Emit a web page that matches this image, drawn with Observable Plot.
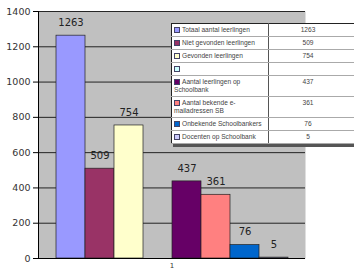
<!DOCTYPE html>
<html><head><meta charset="utf-8">
<script src="https://cdn.jsdelivr.net/npm/d3@7"></script>
<script src="https://cdn.jsdelivr.net/npm/@observablehq/plot@0.6"></script>
<style>
html,body{margin:0;padding:0;background:#fff}
body{width:354px;height:270px;overflow:hidden;position:relative}
#chart svg{display:block}
#legend{position:absolute;left:171px;top:23px;width:195px;border-collapse:collapse;background:#fff;border:1px solid #222;box-shadow:2px 3px 0 #555;font:6.6px "Liberation Sans",Arial,sans-serif;color:#444}
#legend td{padding:2px 2px;line-height:8px;height:8px;border-bottom:1px solid #aaa;vertical-align:top;white-space:pre-line}
#legend td.v{text-align:center;border-left:1px solid #555;padding-right:20px}
#legend td.n{width:92px}
#legend .m{display:inline-block;width:4px;height:4px;border:1px solid #446;margin-right:2px;vertical-align:-1px}
</style>
</head><body>
<div id="chart"></div>
<table id="legend"></table>
<script>
const categories = ["Totaal aantal leerlingen","Niet gevonden leerlingen","Gevonden leerlingen","","Aantal leerlingen op\nSchoolbank","Aantal bekende e-\nmailadressen SB","Onbekende Schoolbankers","Docenten op Schoolbank"];
const values = [1263, 509, 754, null, 437, 361, 76, 5];
const colors = ["#9999ff","#993366","#ffffcc","#ccffff","#660066","#ff8080","#0066cc","#ccccff"];
const yTicks = [0, 200, 400, 600, 800, 1000, 1200, 1400];
const xLabel = ["1"];

const data = categories.map((c, i) => ({i, name: c, v: values[i], color: colors[i]}));
const bars = data.filter(d => d.v != null);

const chart = Plot.plot({
  width: 354, height: 270,
  marginLeft: 38, marginRight: 49, marginTop: 11, marginBottom: 12,
  style: {fontFamily: "DejaVu Sans, sans-serif", background: "transparent"},
  x: {domain: data.map(d => d.i), paddingInner: 0, paddingOuter: 0.5, axis: null},
  y: {domain: [0, 1400], ticks: yTicks, label: null},
  marks: [
    Plot.frame({fill: "#c0c0c0", stroke: "none"}),
    Plot.gridY(yTicks, {stroke: "#111", strokeOpacity: 1, strokeWidth: 0.9}),
    Plot.barY(bars, {x: "i", y: "v", fill: "color", stroke: "#222", strokeWidth: 0.7}),
    Plot.text(bars, {x: "i", y: "v", text: d => String(d.v), dy: -13, fontSize: 10, fill: "#222"}),
    Plot.ruleY([0], {stroke: "#000", strokeWidth: 1}),
    Plot.frame({anchor: "left", stroke: "#000"}),
    Plot.axisY(yTicks, {tickSize: 5, tickPadding: 3, fontSize: 9.5, stroke: "#000", color: "#333", tickFormat: d => String(d), label: null}),
    Plot.text(xLabel, {frameAnchor: "bottom", dy: 9, fontSize: 7, fill: "#333"})
  ]
});
document.getElementById("chart").appendChild(chart);

const table = d3.select("#legend");
const rows = table.selectAll("tr").data(data).join("tr");
const nameCell = rows.append("td").attr("class", "n");
nameCell.append("span").attr("class", "m").style("background", d => d.color);
nameCell.append("span").text(d => d.name);
rows.append("td").attr("class", "v").text(d => d.v == null ? "" : d.v);
</script>
</body></html>
